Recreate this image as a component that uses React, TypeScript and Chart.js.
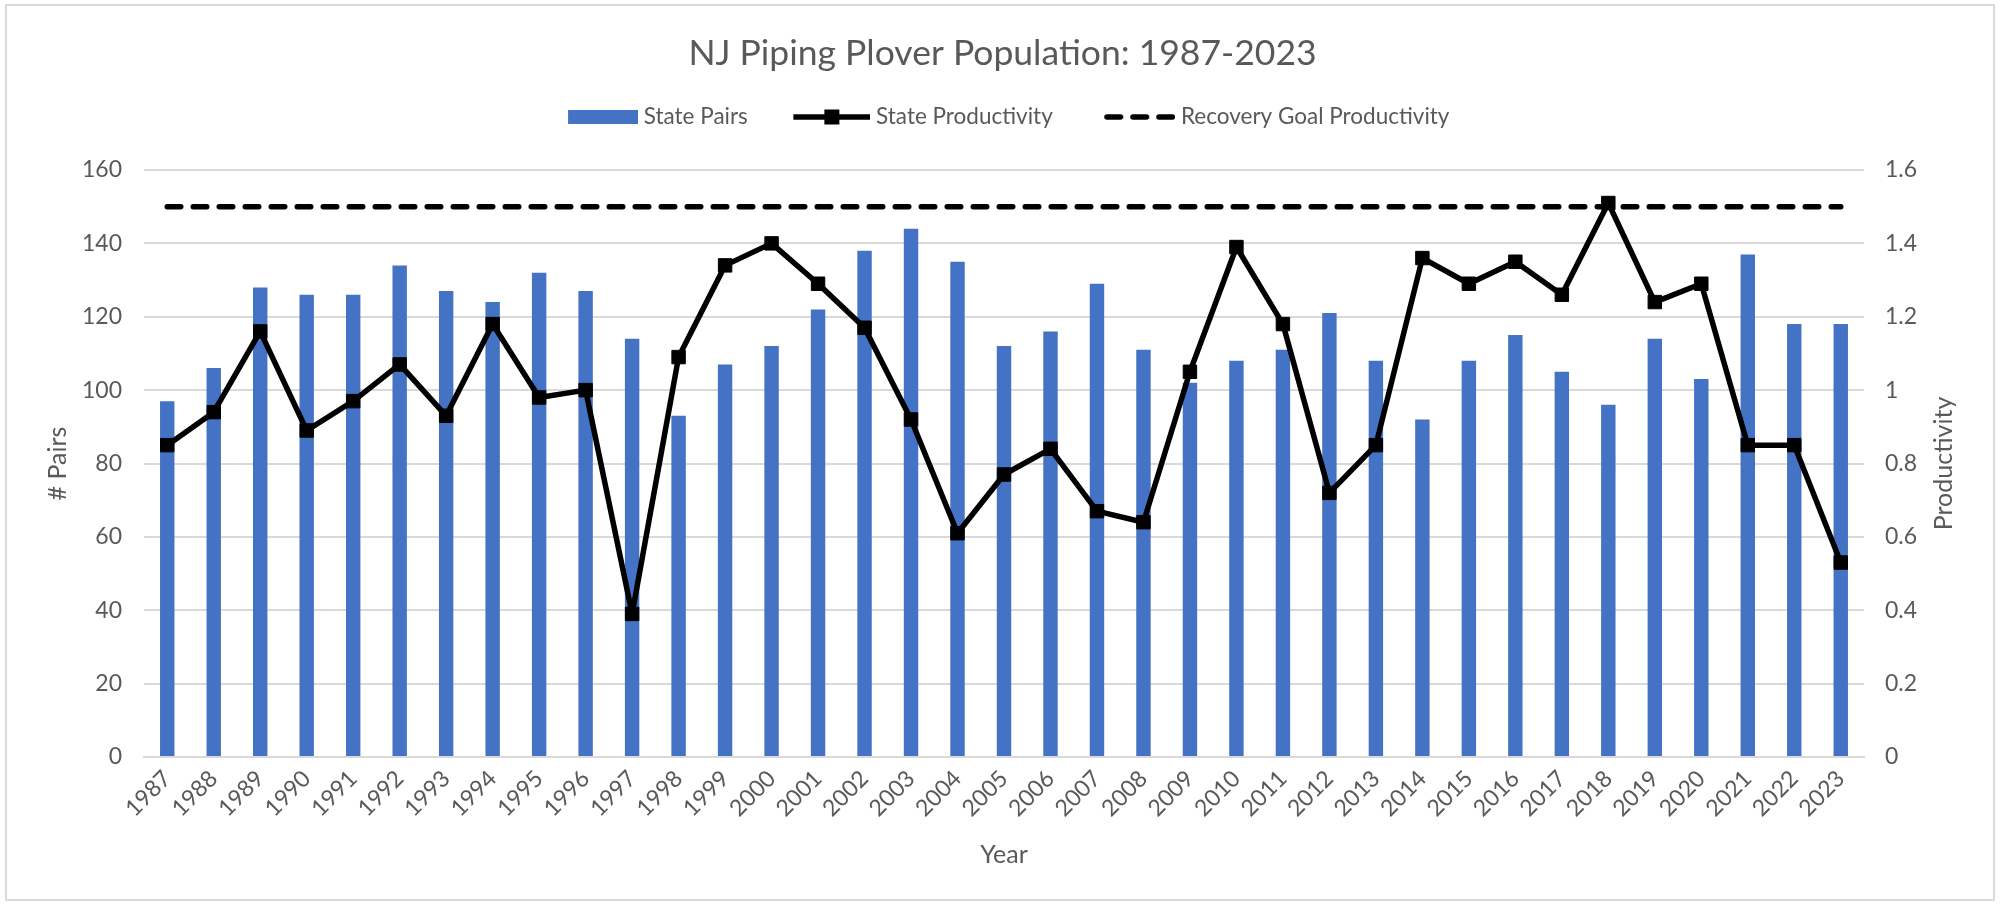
import { useEffect, useRef } from "react";
import { Chart, registerables } from "chart.js";

Chart.register(...registerables);

const years = [
  "1987", "1988", "1989", "1990", "1991", "1992", "1993", "1994", "1995", "1996",
  "1997", "1998", "1999", "2000", "2001", "2002", "2003", "2004", "2005", "2006",
  "2007", "2008", "2009", "2010", "2011", "2012", "2013", "2014", "2015", "2016",
  "2017", "2018", "2019", "2020", "2021", "2022", "2023",
];

const statePairs = [
  97, 106, 128, 126, 126, 134, 127, 124, 132, 127,
  114, 93, 107, 112, 122, 138, 144, 135, 112, 116,
  129, 111, 102, 108, 111, 121, 108, 92, 108, 115,
  105, 96, 114, 103, 137, 118, 118,
];

const stateProductivity = [
  0.85, 0.94, 1.16, 0.89, 0.97, 1.07, 0.93, 1.18, 0.98, 1.0,
  0.39, 1.09, 1.34, 1.4, 1.29, 1.17, 0.92, 0.61, 0.77, 0.84,
  0.67, 0.64, 1.05, 1.39, 1.18, 0.72, 0.85, 1.36, 1.29, 1.35,
  1.26, 1.51, 1.24, 1.29, 0.85, 0.85, 0.53,
];

const recoveryGoal = [
  1.5, 1.5, 1.5, 1.5, 1.5, 1.5, 1.5, 1.5, 1.5, 1.5,
  1.5, 1.5, 1.5, 1.5, 1.5, 1.5, 1.5, 1.5, 1.5, 1.5,
  1.5, 1.5, 1.5, 1.5, 1.5, 1.5, 1.5, 1.5, 1.5, 1.5,
  1.5, 1.5, 1.5, 1.5, 1.5, 1.5, 1.5,
];

const legendLabels = ["State Pairs", "State Productivity", "Recovery Goal Productivity"];
const chartTitle = "NJ Piping Plover Population: 1987-2023";
const xTitle = "Year";
const yTitle = "# Pairs";
const y1Title = "Productivity";

const TEXT = "#595959";
const GRID = "#d9d9d9";
const BLUE = "#4472C4";
const FONT = "Lato";
const TICK_SIZE = 23;
const AXIS_TITLE_SIZE = 25;

function makeSymbol(kind: "bar" | "line" | "dash"): HTMLCanvasElement {
  const W = 88;
  const H = 20;
  const c = document.createElement("canvas");
  c.width = W;
  c.height = H;
  const ctx = c.getContext("2d")!;
  const cy = H / 2;
  if (kind === "bar") {
    ctx.fillStyle = BLUE;
    ctx.fillRect(W - 70, cy - 7, 70, 14);
  } else if (kind === "line") {
    ctx.strokeStyle = "#000";
    ctx.lineWidth = 5.5;
    ctx.beginPath();
    ctx.moveTo(W - 77, cy);
    ctx.lineTo(W, cy);
    ctx.stroke();
    ctx.fillStyle = "#000";
    ctx.fillRect(W - 38.5 - 7.5, cy - 7.5, 15, 15);
  } else {
    ctx.strokeStyle = "#000";
    ctx.lineWidth = 5.5;
    ctx.lineCap = "round";
    ctx.setLineDash([13.5, 12.5]);
    ctx.beginPath();
    ctx.moveTo(W - 71 + 2.75, cy);
    ctx.lineTo(W - 2.75, cy);
    ctx.stroke();
  }
  return c;
}

const rightTitlePlugin = {
  id: "rightTitle",
  afterDraw(chart: any) {
    const { ctx, chartArea } = chart;
    const s = chart.scales.y1;
    ctx.save();
    ctx.translate(s.right - 61, (chartArea.top + chartArea.bottom) / 2);
    ctx.rotate(-Math.PI / 2);
    ctx.font = `${AXIS_TITLE_SIZE}px ${FONT}`;
    ctx.fillStyle = TEXT;
    ctx.textAlign = "center";
    ctx.textBaseline = "middle";
    ctx.fillText(y1Title, 0, 0);
    ctx.restore();
  },
};

export default function App() {
  const ref = useRef<HTMLCanvasElement>(null);

  useEffect(() => {
    Chart.defaults.font.family = FONT;
    Chart.defaults.color = TEXT;
    const symbols = [makeSymbol("bar"), makeSymbol("line"), makeSymbol("dash")];

    const chart = new Chart(ref.current!, {
      type: "bar",
      data: {
        labels: years,
        datasets: [
          {
            type: "bar",
            label: legendLabels[0],
            data: statePairs,
            backgroundColor: BLUE,
            yAxisID: "y",
            order: 3,
            barPercentage: 0.31,
            categoryPercentage: 1,
          },
          {
            type: "line",
            label: legendLabels[1],
            data: stateProductivity,
            borderColor: "#000",
            backgroundColor: "#000",
            borderWidth: 5.5,
            borderJoinStyle: "round",
            pointStyle: "rect",
            pointRadius: 9.5,
            pointBorderWidth: 1,
            pointBorderColor: "#000",
            pointBackgroundColor: "#000",
            yAxisID: "y1",
            order: 1,
          },
          {
            type: "line",
            label: legendLabels[2],
            data: recoveryGoal,
            borderColor: "#000",
            borderWidth: 5.5,
            borderDash: [13.5, 12.5],
            borderCapStyle: "round",
            pointRadius: 0,
            yAxisID: "y1",
            order: 2,
          },
        ],
      } as any,
      options: {
        responsive: false,
        animation: false,
        layout: { padding: 0 },
        plugins: {
          title: {
            display: true,
            text: chartTitle,
            color: TEXT,
            font: { size: 35.5, weight: "normal", family: FONT },
            padding: { top: 32.7, bottom: -9.55 },
          },
          subtitle: {
            display: true,
            text: "",
            weight: 500,
            font: { size: 1 },
            padding: { top: 15.25, bottom: 15.3 },
          } as any,
          legend: {
            display: true,
            position: "top",
            labels: {
              usePointStyle: true,
              pointStyleWidth: 77,
              padding: 40,
              color: TEXT,
              font: { size: 22.5, family: FONT },
              generateLabels: () =>
                legendLabels.map((t, i) => ({
                  text: t,
                  pointStyle: symbols[i] as any,
                  fillStyle: "#000",
                  strokeStyle: "#000",
                  lineWidth: 0,
                  hidden: false,
                  datasetIndex: i,
                  fontColor: TEXT,
                })),
            },
          },
          tooltip: { enabled: false },
        },
        scales: {
          x: {
            grid: { display: false, drawTicks: false },
            border: { display: true, color: GRID, width: 2 },
            ticks: {
              autoSkip: false,
              minRotation: 45,
              maxRotation: 45,
              padding: 8,
              color: TEXT,
              font: { size: TICK_SIZE },
            },
            title: {
              display: true,
              text: xTitle,
              color: TEXT,
              font: { size: AXIS_TITLE_SIZE },
              padding: 35,
            },
            afterFit: (s: any) => {
              s.height = 148;
            },
          },
          y: {
            position: "left",
            min: 0,
            max: 160,
            ticks: { stepSize: 20, padding: 22, color: TEXT, font: { size: TICK_SIZE } },
            grid: { color: GRID, lineWidth: 2, drawTicks: false },
            border: { display: false },
            title: {
              display: true,
              text: yTitle,
              color: TEXT,
              font: { size: AXIS_TITLE_SIZE },
              padding: 43,
            },
            afterFit: (s: any) => {
              s.width = 144;
            },
          },
          y1: {
            position: "right",
            min: 0,
            max: 1.6,
            ticks: {
              stepSize: 0.2,
              padding: 21,
              color: TEXT,
              font: { size: TICK_SIZE },
              callback: (v: any) => String(Math.round(Number(v) * 10) / 10),
            },
            grid: { display: false, drawTicks: false },
            border: { display: false },
            title: { display: false },
            afterFit: (s: any) => {
              s.width = 141;
            },
          },
        },
      } as any,
      plugins: [rightTitlePlugin],
    });
    return () => chart.destroy();
  }, []);

  return (
    <div style={{ position: "absolute", left: 0, top: 0, width: 2005, height: 905, background: "#fff" }}>
      <canvas ref={ref} width={2005} height={905} style={{ display: "block", width: 2005, height: 905 }} />
      <div
        style={{
          position: "absolute",
          left: 5,
          top: 4,
          width: 1990,
          height: 897,
          border: "2px solid #d9d9d9",
          boxSizing: "border-box",
          pointerEvents: "none",
        }}
      />
    </div>
  );
}
